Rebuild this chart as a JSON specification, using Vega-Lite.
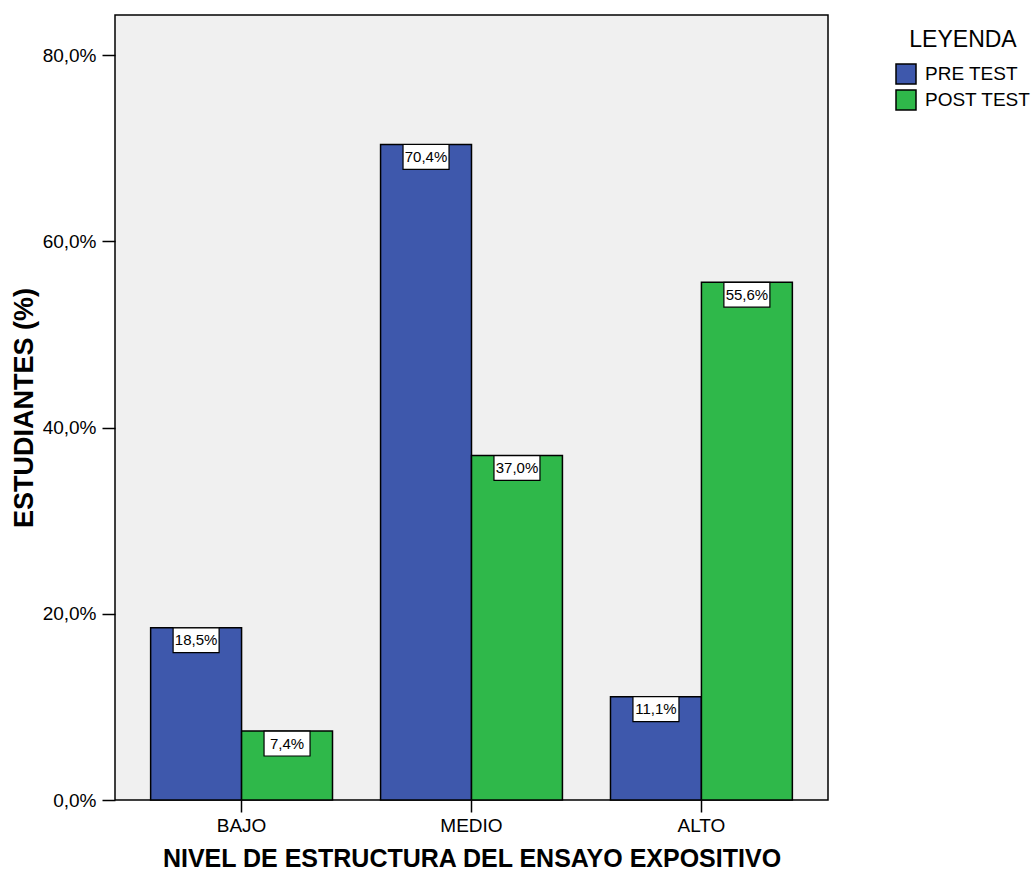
{
  "$schema": "https://vega.github.io/schema/vega-lite/v6.json",
  "width": 713,
  "height": 785,
  "autosize": {"type": "none"},
  "padding": {"left": 115, "top": 15, "right": 204, "bottom": 72},
  "background": "white",
  "config": {
    "font": "Liberation Sans",
    "locale": {"number": {"decimal": ",", "thousands": ".", "grouping": [3], "currency": ["", " €"]}},
    "view": {"fill": "#f0f0f0", "stroke": "black", "strokeWidth": 1.5}
  },
  "data": {"values": [
    {"nivel": "BAJO", "grupo": "PRE TEST", "valor": 0.185},
    {"nivel": "BAJO", "grupo": "POST TEST", "valor": 0.074},
    {"nivel": "MEDIO", "grupo": "PRE TEST", "valor": 0.704},
    {"nivel": "MEDIO", "grupo": "POST TEST", "valor": 0.370},
    {"nivel": "ALTO", "grupo": "PRE TEST", "valor": 0.111},
    {"nivel": "ALTO", "grupo": "POST TEST", "valor": 0.556}
  ]},
  "encoding": {
    "x": {"field": "nivel", "type": "nominal", "sort": ["BAJO", "MEDIO", "ALTO"],
      "scale": {"paddingInner": 0.209, "paddingOuter": 0.155},
      "axis": {"title": "NIVEL DE ESTRUCTURA DEL ENSAYO EXPOSITIVO", "titleFontSize": 25, "titleFontWeight": "bold", "titleColor": "black", "titlePadding": 11,
        "labelAngle": 0, "labelFontSize": 19, "labelColor": "black", "labelPadding": 4, "tickSize": 12, "tickColor": "black", "tickWidth": 1.5, "domain": false}},
    "xOffset": {"field": "grupo", "type": "nominal", "sort": ["PRE TEST", "POST TEST"], "scale": {"paddingInner": 0, "paddingOuter": 0}},
    "y": {"field": "valor", "type": "quantitative", "scale": {"domain": [0, 0.843], "nice": false},
      "axis": {"title": "ESTUDIANTES (%)", "titleFontSize": 27, "titleFontWeight": "bold", "titleColor": "black", "titlePadding": 4,
        "values": [0, 0.2, 0.4, 0.6, 0.8], "format": ".1%", "labelFontSize": 19, "labelColor": "black", "labelPadding": 6,
        "tickSize": 13, "tickColor": "black", "tickWidth": 1.5, "grid": false, "domain": false}}
  },
  "layer": [
    {
      "mark": {"type": "bar", "stroke": "black", "strokeWidth": 1.5, "opacity": 1},
      "encoding": {
        "color": {"field": "grupo", "type": "nominal", "sort": ["PRE TEST", "POST TEST"],
          "scale": {"domain": ["PRE TEST", "POST TEST"], "range": ["#3e58ac", "#2fb84a"]},
          "legend": {"title": "LEYENDA", "orient": "none", "legendX": 780, "legendY": 14,
            "titleFontSize": 23, "titleFontWeight": "normal", "titleColor": "black", "titlePadding": 11, "titleAnchor": "middle",
            "labelFontSize": 19, "labelColor": "black", "labelOffset": 8,
            "symbolType": "square", "symbolSize": 400, "symbolStrokeColor": "black", "symbolStrokeWidth": 1.5, "symbolOpacity": 1, "rowPadding": 0}}
      }
    },
    {
      "mark": {"type": "point", "shape": "M-1,-0.54H1V0.54H-1Z", "size": 2116, "filled": true, "fill": "white", "stroke": "black", "strokeWidth": 1.2, "opacity": 1, "yOffset": 12.5}
    },
    {
      "mark": {"type": "text", "fontSize": 15, "color": "black", "baseline": "middle", "yOffset": 12.5},
      "encoding": {"text": {"field": "valor", "type": "quantitative", "format": ".1%"}}
    }
  ]
}
